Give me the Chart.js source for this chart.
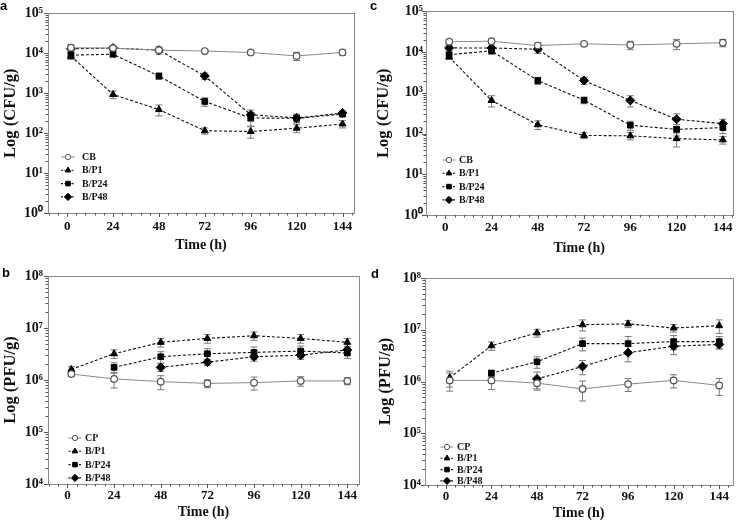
<!DOCTYPE html>
<html>
<head>
<meta charset="utf-8">
<script src="https://cdn.jsdelivr.net/npm/chart.js@4.4.1/dist/chart.umd.min.js"></script>
<style>
  html, body { margin: 0; padding: 0; background: #fff; }
  #wrap { position: relative; width: 738px; height: 523px; }
  canvas { position: absolute; }
</style>
</head>
<body>
<div id="wrap">
  <canvas id="pa" width="369" height="260" style="left:0;top:0"></canvas>
  <canvas id="pc" width="369" height="260" style="left:369px;top:0"></canvas>
  <canvas id="pb" width="369" height="263" style="left:0;top:260px"></canvas>
  <canvas id="pd" width="369" height="263" style="left:369px;top:260px"></canvas>
</div>
<script>
// sampling times (h)
const timeFull = [2, 24, 48, 72, 96, 120, 144];
const time24 = [24, 48, 72, 96, 120, 144];
const time48 = [48, 72, 96, 120, 144];
const xTicks = [0, 24, 48, 72, 96, 120, 144];

const bacteriaLabels = ['CB', 'B/P1', 'B/P24', 'B/P48'];
const phageLabels = ['CP', 'B/P1', 'B/P24', 'B/P48'];

// panel a - bacteria (CFU/g)
const aCB = [13800, 13500, 12000, 11400, 10500, 8600, 10500];
const aCBErr = [2500, 1500, 1500, 1000, 1000, 2000, 1500];
const aP1 = [8500, 930, 390, 115, 110, 133, 170];
const aP1Err = [1500, 200, 120, 20, 35, 30, 35];
const aP24 = [9000, 9500, 2700, 620, 240, 235, 300];
const aP24Err = [1500, 1500, 500, 150, 90, 50, 40];
const aP48 = [13000, 13500, 12000, 2700, 290, 240, 320];
const aP48Err = [2000, 1500, 2500, 500, 90, 60, 40];

// panel c - bacteria (CFU/g)
const cCB = [18000, 18500, 14500, 16000, 15000, 16000, 17000];
const cCBErr = [2000, 2500, 2500, 2000, 3500, 4500, 3500];
const cP1 = [7600, 650, 165, 90, 88, 75, 70];
const cP1Err = [1000, 200, 40, 15, 18, 28, 15];
const cP24 = [8600, 10800, 2000, 660, 160, 127, 140];
const cP24Err = [1500, 2000, 400, 120, 40, 40, 40];
const cP48 = [12700, 12600, 11800, 2000, 650, 225, 175];
const cP48Err = [1500, 1500, 2500, 400, 200, 80, 50];

// panel b - phage (PFU/g)
const bCP = [1.3e6, 1.05e6, 0.93e6, 0.86e6, 0.89e6, 0.96e6, 0.96e6];
const bCPErr = [0.1e6, 0.35e6, 0.28e6, 0.15e6, 0.25e6, 0.2e6, 0.15e6];
const bP1 = [1.6e6, 3.2e6, 5.3e6, 6.3e6, 7.1e6, 6.3e6, 5.3e6];
const bP1Err = [0.2e6, 0.6e6, 1.0e6, 1.2e6, 1.3e6, 1.2e6, 1.0e6];
const bP24 = [1.75e6, 2.8e6, 3.2e6, 3.4e6, 3.6e6, 3.3e6];
const bP24Err = [0.4e6, 0.7e6, 0.8e6, 0.9e6, 0.9e6, 0.7e6];
const bP48 = [1.75e6, 2.2e6, 2.8e6, 3.0e6, 3.8e6];
const bP48Err = [0.3e6, 0.3e6, 0.5e6, 0.5e6, 0.6e6];

// panel d - phage (PFU/g)
const dCP = [1.05e6, 1.05e6, 0.93e6, 0.72e6, 0.89e6, 1.05e6, 0.84e6];
const dCPErr = [0.4e6, 0.35e6, 0.25e6, 0.3e6, 0.25e6, 0.3e6, 0.3e6];
const dP1 = [1.18e6, 4.9e6, 8.7e6, 1.25e7, 1.3e7, 1.08e7, 1.2e7];
const dP1Err = [0.4e6, 0.9e6, 1.5e6, 3e6, 2e6, 1.8e6, 3.5e6];
const dP24 = [1.45e6, 2.4e6, 5.4e6, 5.4e6, 5.9e6, 5.9e6];
const dP24Err = [0.2e6, 0.6e6, 1.5e6, 2e6, 1.8e6, 1.5e6];
const dP48 = [1.12e6, 1.95e6, 3.6e6, 4.8e6, 5.2e6];
const dP48Err = [0.4e6, 0.6e6, 1.2e6, 1.5e6, 1.0e6];

const SUP = ['\u2070', '\u00b9', '\u00b2', '\u00b3', '\u2074', '\u2075', '\u2076', '\u2077', '\u2078', '\u2079'];
const SERIF = "'Liberation Serif', 'Times New Roman', serif";

const styles = [
  { borderColor: '#8a8a8a', borderWidth: 1, pointStyle: 'circle', pointRadius: 3.3,
    pointBackgroundColor: '#fff', pointBorderColor: '#555', pointBorderWidth: 1.2 },
  { borderColor: '#111', borderWidth: 1.1, borderDash: [3, 2], pointStyle: 'triangle', pointRadius: 4,
    pointBackgroundColor: '#000', pointBorderColor: '#000', pointBorderWidth: 1 },
  { borderColor: '#111', borderWidth: 1.1, borderDash: [3, 2], pointStyle: 'rect', pointRadius: 4,
    pointBackgroundColor: '#000', pointBorderColor: '#000', pointBorderWidth: 1 },
  { borderColor: '#111', borderWidth: 1.1, borderDash: [3, 2], pointStyle: 'rectRot', pointRadius: 4.5,
    pointBackgroundColor: '#000', pointBorderColor: '#000', pointBorderWidth: 1 }
];

function series(label, times, values, errors, style) {
  return Object.assign({
    label,
    data: times.map((t, i) => ({ x: t, y: values[i] })),
    errors,
    fill: false,
    tension: 0
  }, style);
}

// frame, outward ticks, error bars, legend and panel letter
const decoPlugin = {
  id: 'deco',
  beforeDatasetsDraw(chart) {
    const ctx = chart.ctx;
    const ys = chart.scales.y;
    ctx.save();
    ctx.strokeStyle = '#7a7a7a';
    ctx.lineWidth = 1;
    chart.data.datasets.forEach((ds, i) => {
      const meta = chart.getDatasetMeta(i);
      meta.data.forEach((pt, j) => {
        const v = ds.data[j].y, e = ds.errors[j];
        const y1 = ys.getPixelForValue(v + e);
        const y2 = ys.getPixelForValue(Math.max(v - e, v * 0.05));
        ctx.beginPath();
        ctx.moveTo(pt.x, y1); ctx.lineTo(pt.x, y2);
        ctx.moveTo(pt.x - 3.5, y1); ctx.lineTo(pt.x + 3.5, y1);
        ctx.moveTo(pt.x - 3.5, y2); ctx.lineTo(pt.x + 3.5, y2);
        ctx.stroke();
      });
    });
    ctx.restore();
  },
  afterDraw(chart, args, opts) {
    const ctx = chart.ctx;
    const a = chart.chartArea;
    const xs = chart.scales.x, ys = chart.scales.y;
    ctx.save();
    ctx.strokeStyle = '#8a8a8a';
    ctx.lineWidth = 1;
    ctx.strokeRect(Math.round(a.left) + 0.5, Math.round(a.top) + 0.5,
      Math.round(a.right - a.left), Math.round(a.bottom - a.top));

    ctx.strokeStyle = '#555';
    ctx.beginPath();
    // x ticks: majors every 24 h, minors every 4.8 h
    for (let t = -24; t <= xs.max; t += 4.8) {
      if (t < xs.min) continue;
      const px = Math.round(xs.getPixelForValue(t)) + 0.5;
      const major = Math.abs(t / 24 - Math.round(t / 24)) < 0.01;
      ctx.moveTo(px, a.bottom);
      ctx.lineTo(px, a.bottom + (major ? 4 : 2.5));
    }
    // y ticks on log scale
    const e0 = Math.round(Math.log10(ys.min)), e1 = Math.round(Math.log10(ys.max));
    for (let e = e0; e <= e1; e++) {
      for (let k = 1; k <= 9; k++) {
        const v = k * Math.pow(10, e);
        if (v > ys.max * 1.0001) break;
        const py = Math.round(ys.getPixelForValue(v)) + 0.5;
        ctx.moveTo(a.left, py);
        ctx.lineTo(a.left - (k === 1 ? 4 : 2.5), py);
      }
    }
    ctx.stroke();

    // legend
    const lg = opts.legend;
    ctx.font = 'bold 10px ' + SERIF;
    ctx.textBaseline = 'middle';
    chart.data.datasets.forEach((ds, i) => {
      const y = lg.y + i * lg.dy;
      ctx.save();
      ctx.strokeStyle = ds.borderColor;
      ctx.lineWidth = ds.borderWidth;
      ctx.setLineDash(ds.borderDash ? [2, 1.5] : []);
      ctx.beginPath();
      ctx.moveTo(lg.x - lg.half, y); ctx.lineTo(lg.x + lg.half, y);
      ctx.stroke();
      ctx.restore();
      ctx.fillStyle = ds.pointBackgroundColor;
      ctx.strokeStyle = ds.pointBorderColor;
      ctx.lineWidth = 1;
      Chart.helpers.drawPoint(ctx, { pointStyle: ds.pointStyle, radius: ds.pointRadius * 0.8, rotation: 0, borderWidth: 1 }, lg.x, y);
      ctx.fillStyle = '#111';
      ctx.fillText(ds.label, lg.x + lg.gap, y + 0.5);
    });

    // panel letter
    ctx.font = "bold 13px 'Liberation Sans', Arial, sans-serif";
    ctx.textBaseline = 'top';
    ctx.fillStyle = '#000';
    ctx.fillText(opts.letter, opts.letterX, opts.letterY);
    ctx.restore();
  }
};

function makePanel(id, cfg) {
  const pows = [];
  for (let v = cfg.yMin; v <= cfg.yMax * 1.0001; v *= 10) pows.push(v);
  return new Chart(document.getElementById(id), {
    type: 'line',
    data: { datasets: cfg.datasets },
    options: {
      responsive: false,
      animation: false,
      layout: { padding: { left: 0, top: cfg.top, right: cfg.right, bottom: 0 } },
      plugins: {
        legend: { display: false },
        tooltip: { enabled: false },
        deco: { legend: cfg.legend, letter: cfg.letter, letterX: cfg.letterX, letterY: cfg.letterY }
      },
      scales: {
        x: {
          type: 'linear',
          min: cfg.xMin,
          max: cfg.xMax,
          afterBuildTicks: s => { s.ticks = xTicks.map(v => ({ value: v })); },
          afterFit: s => { s.height = cfg.xHeight; },
          grid: { display: false, drawTicks: false },
          border: { display: false },
          ticks: { color: '#111', padding: cfg.xTickPad, maxRotation: 0, font: { family: SERIF, size: 13, weight: 'bold' } },
          title: { display: true, text: 'Time (h)', color: '#111', padding: { top: 0, bottom: cfg.xTitlePad },
            font: { family: SERIF, size: 14, weight: 'bold', lineHeight: 1.1 } }
        },
        y: {
          type: 'logarithmic',
          min: cfg.yMin,
          max: cfg.yMax,
          afterBuildTicks: s => { s.ticks = pows.map(v => ({ value: v })); },
          afterFit: s => { s.width = cfg.yWidth; },
          grid: { display: false, drawTicks: false },
          border: { display: false },
          ticks: {
            color: '#111',
            padding: cfg.yTickPad,
            font: { family: SERIF, size: 14, weight: 'bold' },
            callback: v => '10' + SUP[Math.round(Math.log10(v))]
          },
          title: { display: true, text: cfg.yTitle, color: '#111', padding: { top: cfg.yTitlePad, bottom: 0 },
            font: { family: SERIF, size: 16.5, weight: 'bold', lineHeight: 1.1 } }
        }
      }
    },
    plugins: [decoPlugin]
  });
}

makePanel('pa', {
  letter: 'a', letterX: 0, letterY: 0,
  yTitle: 'Log (CFU/g)', yMin: 1, yMax: 1e5, xMin: -10, xMax: 150,
  top: 10, right: 15, yWidth: 48, xHeight: 47,
  xTickPad: 6, xTitlePad: 7, yTickPad: 5, yTitlePad: 2,
  legend: { x: 68, y: 157, dy: 13.3, half: 7, gap: 14 },
  datasets: [
    series(bacteriaLabels[0], timeFull, aCB, aCBErr, styles[0]),
    series(bacteriaLabels[1], timeFull, aP1, aP1Err, styles[1]),
    series(bacteriaLabels[2], timeFull, aP24, aP24Err, styles[2]),
    series(bacteriaLabels[3], timeFull, aP48, aP48Err, styles[3])
  ]
});

makePanel('pc', {
  letter: 'c', letterX: 1, letterY: 0,
  yTitle: 'Log (CFU/g)', yMin: 1, yMax: 1e5, xMin: -10, xMax: 149,
  top: 10, right: 2, yWidth: 57, xHeight: 45,
  xTickPad: 5, xTitlePad: 4, yTickPad: 3, yTitlePad: 6,
  legend: { x: 80, y: 160, dy: 13.3, half: 6.5, gap: 10 },
  datasets: [
    series(bacteriaLabels[0], timeFull, cCB, cCBErr, styles[0]),
    series(bacteriaLabels[1], timeFull, cP1, cP1Err, styles[1]),
    series(bacteriaLabels[2], timeFull, cP24, cP24Err, styles[2]),
    series(bacteriaLabels[3], timeFull, cP48, cP48Err, styles[3])
  ]
});

makePanel('pb', {
  letter: 'b', letterX: 2, letterY: 7,
  yTitle: 'Log (PFU/g)', yMin: 1e4, yMax: 1e8, xMin: -10, xMax: 150,
  top: 16, right: 10, yWidth: 48, xHeight: 39,
  xTickPad: 4, xTitlePad: 3, yTickPad: 5, yTitlePad: 2,
  legend: { x: 75, y: 178, dy: 13.3, half: 6.5, gap: 10 },
  datasets: [
    series(phageLabels[0], timeFull, bCP, bCPErr, styles[0]),
    series(phageLabels[1], timeFull, bP1, bP1Err, styles[1]),
    series(phageLabels[2], time24, bP24, bP24Err, styles[2]),
    series(phageLabels[3], time48, bP48, bP48Err, styles[3])
  ]
});

makePanel('pd', {
  letter: 'd', letterX: 2, letterY: 8,
  yTitle: 'Log (PFU/g)', yMin: 1e4, yMax: 1e8, xMin: -11, xMax: 151,
  top: 18, right: 2, yWidth: 56, xHeight: 38,
  xTickPad: 4, xTitlePad: 2, yTickPad: 4, yTitlePad: 8,
  legend: { x: 78, y: 187, dy: 11.3, half: 6.5, gap: 10 },
  datasets: [
    series(phageLabels[0], timeFull, dCP, dCPErr, styles[0]),
    series(phageLabels[1], timeFull, dP1, dP1Err, styles[1]),
    series(phageLabels[2], time24, dP24, dP24Err, styles[2]),
    series(phageLabels[3], time48, dP48, dP48Err, styles[3])
  ]
});
</script>
</body>
</html>
